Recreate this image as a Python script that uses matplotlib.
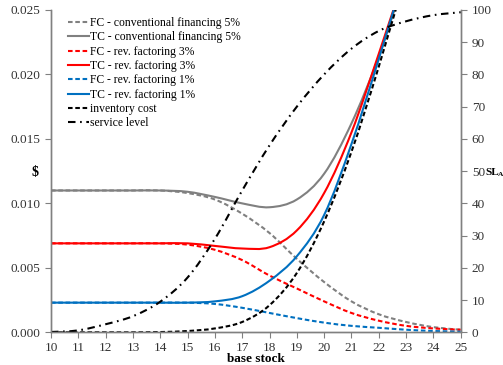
import matplotlib
matplotlib.use("Agg")
import matplotlib.pyplot as plt
from matplotlib.path import Path
from matplotlib.patches import PathPatch
from matplotlib.lines import Line2D

base_stock = [10, 11, 12, 13, 14, 15, 16, 17, 18, 19, 20, 21, 22, 23, 24, 25]

fc_conv5 = [0.0110, 0.0110, 0.0110, 0.0110, 0.0110, 0.0108, 0.0103, 0.0092, 0.0077, 0.0057, 0.0039, 0.0024, 0.0014, 0.0008, 0.0004, 0.0002]
tc_conv5 = [0.0110, 0.0110, 0.0110, 0.0110, 0.0110, 0.0109, 0.0105, 0.0100, 0.0097, 0.0103, 0.0123, 0.0162, 0.0214, 0.0278, None, None]
fc_rev3 = [0.0069, 0.0069, 0.0069, 0.0069, 0.0069, 0.0068, 0.0064, 0.0056, 0.0044, 0.0034, 0.0024, 0.0015, 0.0009, 0.0005, 0.0003, 0.0002]
tc_rev3 = [0.0069, 0.0069, 0.0069, 0.0069, 0.0069, 0.0069, 0.0067, 0.0065, 0.0066, 0.0079, 0.0108, 0.0155, 0.0216, 0.0280, None, None]
fc_rev1 = [0.0023, 0.0023, 0.0023, 0.0023, 0.0023, 0.0023, 0.0022, 0.0019, 0.0015, 0.0011, 0.00075, 0.0005, 0.00035, 0.0002, 0.0001, 0.00005]
tc_rev1 = [0.0023, 0.0023, 0.0023, 0.0023, 0.0023, 0.0023, 0.0024, 0.0028, 0.0040, 0.0059, 0.0091, 0.0146, 0.0212, 0.0282, None, None]
inv_cost = [0.0, 0.0, 0.0, 0.0, 0.00002, 0.0001, 0.0003, 0.0008, 0.0021, 0.0046, 0.0086, 0.0140, 0.0206, 0.0278, None, None]
service_level = [0.1, 0.6, 2.5, 5.0, 9.5, 17.0, 29.0, 44.0, 58.0, 70.0, 80.0, 88.0, 93.5, 96.5, 98.4, 99.3]

labels = ["FC - conventional financing 5%", "TC - conventional financing 5%",
          "FC - rev. factoring 3%", "TC - rev. factoring 3%",
          "FC - rev. factoring 1%", "TC - rev. factoring 1%",
          "inventory cost", "service level"]

GREY = "#808080"
RED = "#FF0000"
BLUE = "#0070C0"
FONT = "Liberation Serif"

plt.rcParams["font.family"] = FONT

fig = plt.figure(figsize=(5.03, 3.65), dpi=100)
ax = fig.add_axes([51/503, 1-332.3/365, (460.7-51)/503, (332.3-10)/365])
ax2 = ax.twinx()


def smooth_path(xs, ys):
    """Excel-style smoothed line: cubic Bezier segments through the data points."""
    pts = [(x, y) for x, y in zip(xs, ys) if y is not None]
    n = len(pts)
    verts = [pts[0]]
    codes = [Path.MOVETO]
    for i in range(n - 1):
        p0 = pts[i - 1] if i > 0 else pts[i]
        p1 = pts[i]
        p2 = pts[i + 1]
        p3 = pts[i + 2] if i + 2 < n else pts[i + 1]
        c1 = (p1[0] + (p2[0] - p0[0]) / 6.0, p1[1] + (p2[1] - p0[1]) / 6.0)
        c2 = (p2[0] - (p3[0] - p1[0]) / 6.0, p2[1] - (p3[1] - p1[1]) / 6.0)
        verts += [c1, c2, p2]
        codes += [Path.CURVE4] * 3
    return Path(verts, codes)


dash = (2.2, 1.3)
dashdot = (3.6, 2.2, 0.8, 2.2)
lw = 1.5
series = [
    (ax, fc_conv5, GREY, dash, labels[0]),
    (ax, tc_conv5, GREY, None, labels[1]),
    (ax, fc_rev3, RED, dash, labels[2]),
    (ax, tc_rev3, RED, None, labels[3]),
    (ax, fc_rev1, BLUE, dash, labels[4]),
    (ax, tc_rev1, BLUE, None, labels[5]),
    (ax, inv_cost, "black", dash, labels[6]),
    (ax2, service_level, "black", dashdot, labels[7]),
]
handles = []
for a, ys, col, ds, lab in series:
    ls = "-" if ds is None else (0, ds)
    patch = PathPatch(smooth_path(base_stock, ys), fill=False, edgecolor=col,
                      lw=lw, linestyle=ls, capstyle="butt", joinstyle="round")
    a.add_patch(patch)
    handles.append(Line2D([], [], color=col, lw=lw, linestyle=ls, label=lab))

ax.set_xlim(10, 25)
ax.set_ylim(0, 0.025)
ax2.set_ylim(0, 100)
ax.set_xticks(base_stock)
ax.set_yticks([0.0, 0.005, 0.010, 0.015, 0.020, 0.025])
ax.set_yticklabels(["0.000", "0.005", "0.010", "0.015", "0.020", "0.025"])
ax2.set_yticks(range(0, 101, 10))

for a in (ax, ax2):
    for s in a.spines.values():
        s.set_color(GREY)
        s.set_linewidth(1.0)
    a.spines["top"].set_visible(False)
    a.tick_params(colors=GREY, labelcolor="#333333", labelsize=9.5, length=4, width=0.8)
ax.tick_params(axis="x", pad=3)
ax2.tick_params(axis="y", pad=4)

fig.text(255.5/503, 1-359/365, "base stock", fontweight="bold", fontsize=9.5,
         ha="center", va="center")
fig.text(35/503, 1-172/365, "$", fontweight="bold", fontsize=10, ha="center", va="center")
fig.text(485/503, 1-172/365, "SL", fontweight="bold", fontsize=8,
         ha="left", va="center")
fig.text(498/503, 1-175/365, "A", fontweight="bold", fontsize=5.3,
         ha="left", va="center")

leg = ax.legend(handles=handles, loc="upper left", bbox_to_anchor=(0.025, 1.0),
                frameon=False, fontsize=8.4, handlelength=1.8, handletextpad=0.1,
                labelspacing=0.2, borderaxespad=0.2)

fig.savefig("out.png", dpi=100)
